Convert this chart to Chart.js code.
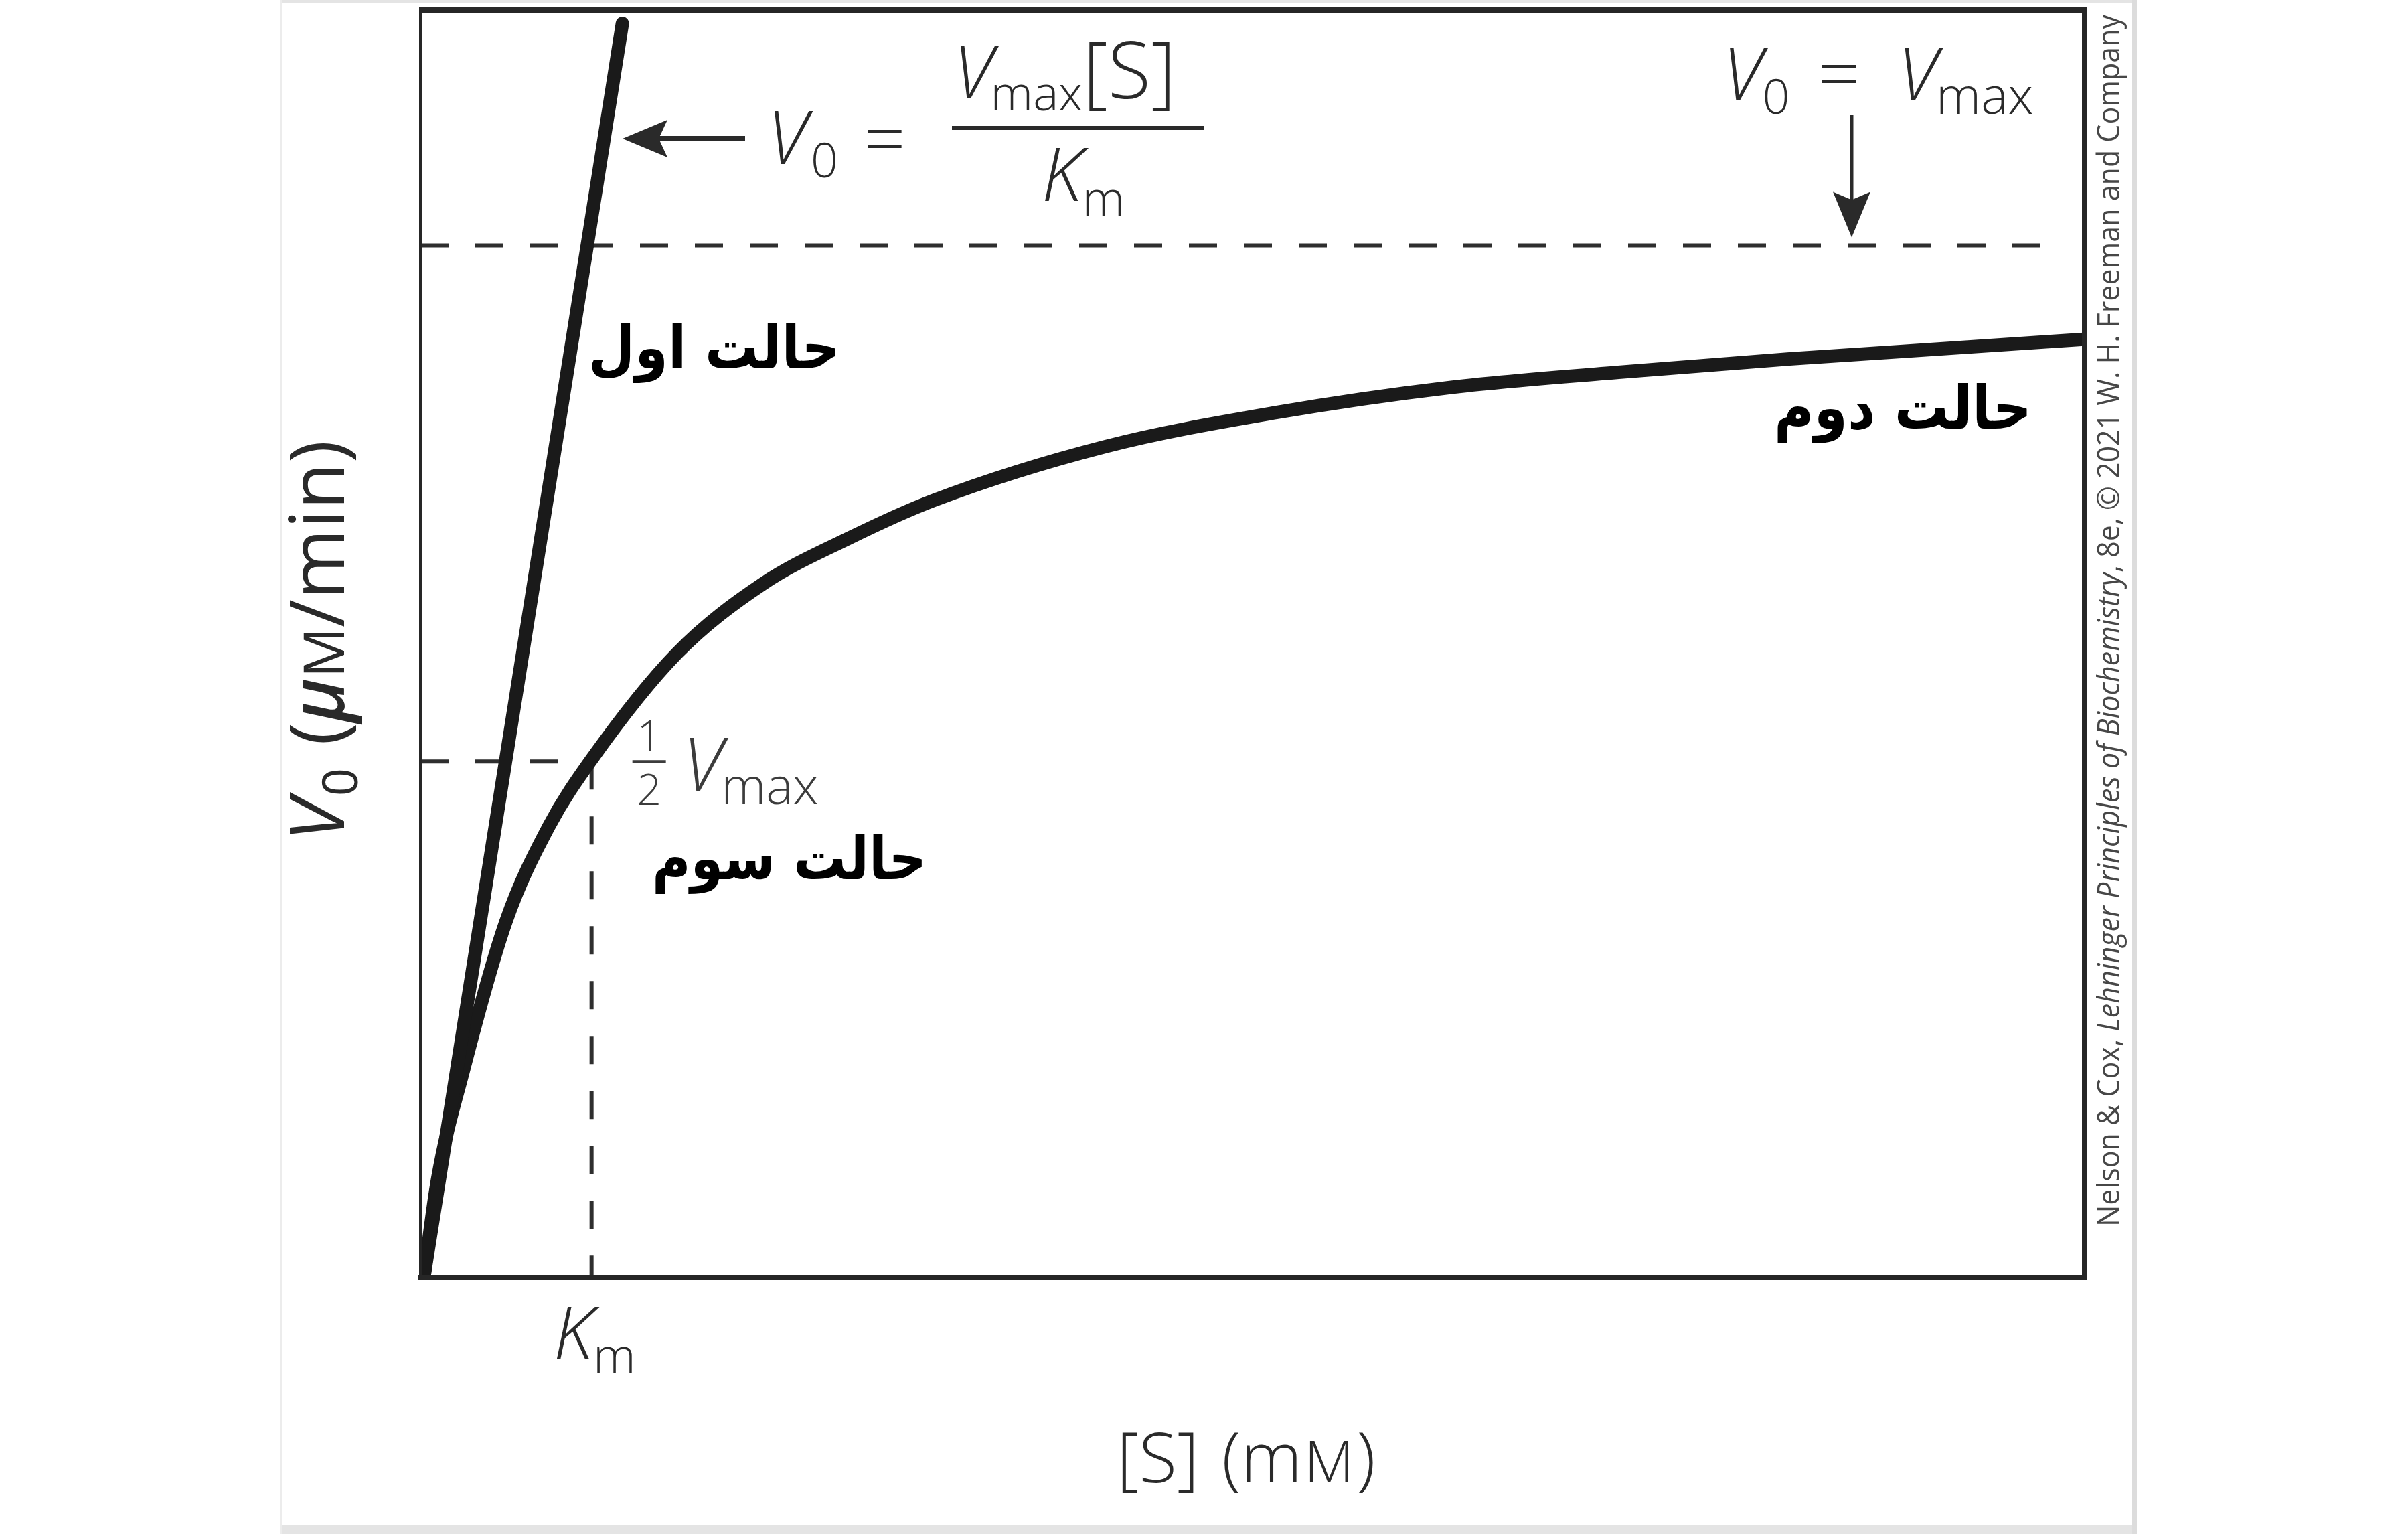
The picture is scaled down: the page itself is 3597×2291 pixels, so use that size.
<!DOCTYPE html>
<html>
<head>
<meta charset="utf-8">
<script src="https://cdn.jsdelivr.net/npm/chart.js"></script>
<style>
  html, body { margin: 0; padding: 0; background: #fff; }
  canvas { display: block; }
</style>
</head>
<body>
<canvas id="chart" width="3597" height="2291"></canvas>
<script>
// [S] in units of Km, V0 in units of Vmax
const KM = 1;
const VMAX = 1;
const X_MAX = 9.72;
const Y_MAX = 1.228;

// hyperbolic curve
const curveS = [0.02, 0.1, 0.25, 0.5, 0.75, 1, 1.5, 2, 2.5, 3, 4, 5, 6, 7, 8, 9, 9.72];
const curveV = [0, 0.095, 0.2, 0.345, 0.437, 0.502, 0.605, 0.672, 0.716, 0.753, 0.805, 0.838, 0.862, 0.877, 0.89, 0.901, 0.909];

// straight line at low [S]
const lineS = [0.02, 1.18];
const lineV = [0, 1.215];

// dashed guides
const vmaxGuideS = [0, 9.56];
const halfGuideS = [0, KM];

const stateLabels = ['حالت اول', 'حالت دوم', 'حالت سوم'];
const copyright = ['Nelson & Cox, ', 'Lehninger Principles of Biochemistry', ', 8e, © 2021 W. H. Freeman and Company'];

const FAM = '"Open Sans", "DejaVu Sans", sans-serif';
const f = (style, weight, size) => style + ' ' + weight + ' ' + size + 'px ' + FAM;

function pts(xs, ys) {
  return xs.map((x, i) => ({ x: x, y: ys[i] }));
}

function drawRuns(ctx, x, y, parts) {
  parts.forEach(p => {
    ctx.font = p.font;
    x += (p.dx || 0);
    ctx.fillText(p.text, x, y + (p.dy || 0));
    x += ctx.measureText(p.text).width;
  });
  return x;
}

function persian(ctx, text, right, base, width) {
  ctx.save();
  ctx.font = 'bold 90px "DejaVu Sans", sans-serif';
  ctx.direction = 'rtl';
  ctx.textAlign = 'right';
  const w = ctx.measureText(text).width;
  ctx.translate(right, base);
  ctx.scale(width / w, 1);
  ctx.fillStyle = '#000';
  ctx.fillText(text, 0, 0);
  ctx.restore();
}

const decor = {
  id: 'decor',
  beforeDraw(chart) {
    const ctx = chart.ctx;
    ctx.save();
    ctx.fillStyle = '#fff';
    ctx.fillRect(0, 0, chart.width, chart.height);
    // light grey outer frame of the figure
    ctx.fillStyle = '#e4e4e4';
    ctx.fillRect(418, 0, 2772, 5);
    ctx.fillRect(418, 2277, 2772, 14);
    ctx.fillStyle = '#ececec';
    ctx.fillRect(418, 0, 3, 2291);
    ctx.fillStyle = '#dcdcdc';
    ctx.fillRect(3184, 0, 8, 2291);
    ctx.restore();
  },
  afterDraw(chart) {
    const ctx = chart.ctx;
    const a = chart.chartArea;
    const xs = chart.scales.x, ys = chart.scales.y;
    ctx.save();

    // plot frame
    ctx.fillStyle = '#262626';
    ctx.fillRect(a.left - 2, a.top - 4, a.right - a.left + 6, 8);
    ctx.fillRect(a.right - 3, a.top - 4, 7, a.bottom - a.top + 8);
    ctx.fillRect(a.left - 3, a.bottom - 4, a.right - a.left + 6, 8);
    ctx.fillRect(a.left - 2, a.top - 4, 5, a.bottom - a.top + 8);

    ctx.fillStyle = '#2a2a2a';
    ctx.textBaseline = 'alphabetic';
    ctx.textAlign = 'left';

    // V0 = Vmax[S]/Km next to the straight line
    ctx.font = f('italic', 300, 110);
    ctx.fillText('V', 1146, 245);
    ctx.font = f('normal', 300, 72);
    ctx.fillText('0', 1211, 265);
    ctx.font = f('normal', 300, 110);
    ctx.fillText('=', 1290, 247);
    ctx.fillRect(1422, 188, 377, 6);
    drawRuns(ctx, 1424, 147, [
      { text: 'V', font: f('italic', 300, 110) },
      { text: 'max', font: f('normal', 300, 72), dy: 18, dx: -4 },
      { text: '[S]', font: f('normal', 300, 118) }
    ]);
    drawRuns(ctx, 1556, 300, [
      { text: 'K', font: f('italic', 300, 110) },
      { text: 'm', font: f('normal', 300, 72), dy: 22 }
    ]);

    // arrow pointing at the line
    ctx.fillRect(985, 203, 128, 8);
    ctx.beginPath();
    ctx.moveTo(930, 207);
    ctx.lineTo(997, 179);
    ctx.lineTo(984, 207);
    ctx.lineTo(997, 235);
    ctx.closePath();
    ctx.fill();

    // V0 = Vmax with arrow down to the dashed line
    const vmaxY = ys.getPixelForValue(VMAX);
    drawRuns(ctx, 2573, 150, [
      { text: 'V', font: f('italic', 300, 110) },
      { text: '0', font: f('normal', 300, 72), dy: 20 },
      { text: '=', font: f('normal', 300, 110), dx: 42 },
      { text: 'V', font: f('italic', 300, 110), dx: 56 },
      { text: 'max', font: f('normal', 300, 76), dy: 20, dx: -2 }
    ]);
    const ax = 2766, tip = vmaxY - 12;
    ctx.fillRect(ax - 2.5, 172, 5, tip - 172 - 50);
    ctx.beginPath();
    ctx.moveTo(ax, tip);
    ctx.lineTo(ax - 28, tip - 68);
    ctx.lineTo(ax, tip - 56);
    ctx.lineTo(ax + 28, tip - 68);
    ctx.closePath();
    ctx.fill();

    // 1/2 Vmax
    const kmX = xs.getPixelForValue(KM);
    const halfY = ys.getPixelForValue(VMAX / 2);
    ctx.fillStyle = '#3c3c3c';
    ctx.textAlign = 'center';
    ctx.font = f('normal', 300, 64);
    ctx.fillText('1', kmX + 86, halfY - 15);
    ctx.fillText('2', kmX + 86, halfY + 65);
    ctx.fillRect(kmX + 61, halfY - 2, 50, 4);
    ctx.textAlign = 'left';
    drawRuns(ctx, kmX + 136, halfY + 44, [
      { text: 'V', font: f('italic', 300, 110) },
      { text: 'max', font: f('normal', 300, 76), dy: 20, dx: -2 }
    ]);

    // Km under the axis
    ctx.fillStyle = '#2a2a2a';
    drawRuns(ctx, kmX - 57, 2030, [
      { text: 'K', font: f('italic', 300, 108) },
      { text: 'm', font: f('normal', 300, 72), dy: 20 }
    ]);

    // x axis title [S] (mM)
    drawRuns(ctx, 1668, 2214, [
      { text: '[S]', font: f('normal', 300, 104) },
      { text: '(m', font: f('normal', 300, 104), dx: 34 },
      { text: 'M', font: f('normal', 300, 86), dx: 3 },
      { text: ')', font: f('normal', 300, 104), dx: 4 }
    ]);

    // y axis title V0 (uM/min)
    ctx.save();
    ctx.translate(514, 1256);
    ctx.rotate(-Math.PI / 2);
    drawRuns(ctx, 0, 0, [
      { text: 'V', font: f('italic', 400, 114) },
      { text: '0', font: f('normal', 400, 74), dy: 20, dx: 4 },
      { text: '(', font: f('normal', 400, 114), dx: 34 },
      { text: 'μ', font: f('italic', 600, 112) },
      { text: 'M', font: f('normal', 400, 84) },
      { text: '/min)', font: f('normal', 400, 114) }
    ]);
    ctx.restore();

    // copyright line on the right
    ctx.save();
    ctx.fillStyle = '#474747';
    ctx.translate(3166, 1832);
    ctx.rotate(-Math.PI / 2);
    const cFonts = [f('normal', 400, 46), f('italic', 400, 46), f('normal', 400, 46)];
    let cw = 0;
    copyright.forEach((t, i) => { ctx.font = cFonts[i]; cw += ctx.measureText(t).width; });
    ctx.scale(1810 / cw, 1);
    drawRuns(ctx, 0, 0, copyright.map((t, i) => ({ text: t, font: cFonts[i] })));
    ctx.restore();

    // Persian state labels
    persian(ctx, stateLabels[0], 1255, 550, 376);
    persian(ctx, stateLabels[1], 3035, 640, 385);
    persian(ctx, stateLabels[2], 1384, 1313, 410);

    ctx.restore();
  }
};

const dashStyle = { borderColor: '#2e2e2e', borderWidth: 6, borderDash: [42, 40], pointRadius: 0, fill: false, order: 2 };

new Chart(document.getElementById('chart'), {
  type: 'line',
  data: {
    datasets: [
      Object.assign({ label: 'Vmax', data: pts(vmaxGuideS, vmaxGuideS.map(() => VMAX)) }, dashStyle),
      Object.assign({ label: 'half Vmax', data: pts(halfGuideS, halfGuideS.map(() => VMAX / 2)) }, dashStyle),
      Object.assign({ label: 'Km', data: pts([KM, KM], [VMAX / 2, 0]) }, dashStyle),
      {
        label: 'first-order line',
        data: pts(lineS, lineV),
        borderColor: '#1a1a1a',
        borderWidth: 20,
        borderCapStyle: 'round',
        pointRadius: 0,
        order: 1
      },
      {
        label: 'Michaelis-Menten',
        data: pts(curveS, curveV),
        borderColor: '#1a1a1a',
        borderWidth: 20,
        borderCapStyle: 'butt',
        cubicInterpolationMode: 'monotone',
        pointRadius: 0,
        order: 1
      }
    ]
  },
  options: {
    responsive: false,
    animation: false,
    devicePixelRatio: 1,
    layout: { padding: { left: 628, right: 484, top: 15, bottom: 383 } },
    scales: {
      x: { type: 'linear', min: 0, max: X_MAX, display: false },
      y: { type: 'linear', min: 0, max: Y_MAX, display: false }
    },
    plugins: { legend: { display: false }, tooltip: { enabled: false } }
  },
  plugins: [decor]
});
</script>
</body>
</html>
